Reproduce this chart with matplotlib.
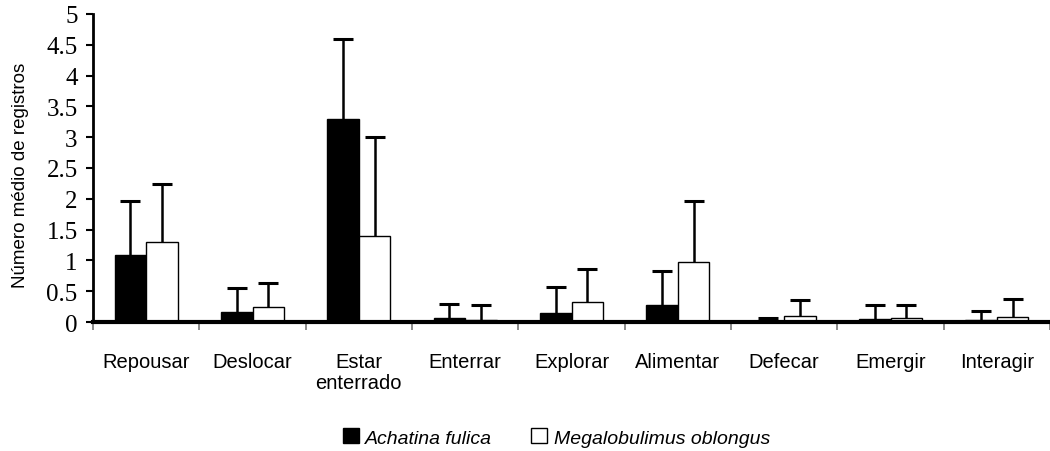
import numpy as np
import matplotlib.pyplot as plt
from matplotlib.patches import Patch
from matplotlib.transforms import blended_transform_factory

# ── DATA ─────────────────────────────────────────────────────────
categories = ["Repousar", "Deslocar", "Estar\nenterrado", "Enterrar", "Explorar",
              "Alimentar", "Defecar", "Emergir", "Interagir"]
fulica_mean = [1.08, 0.16, 3.30, 0.06, 0.15, 0.28, 0.01, 0.05, 0.03]
fulica_err  = [0.88, 0.39, 1.30, 0.23, 0.42, 0.54, 0.06, 0.22, 0.15]
oblongus_mean = [1.30, 0.24, 1.40, 0.04, 0.32, 0.97, 0.10, 0.07, 0.08]
oblongus_err  = [0.94, 0.40, 1.60, 0.23, 0.54, 0.99, 0.26, 0.20, 0.29]
yticks = [0, 0.5, 1, 1.5, 2, 2.5, 3, 3.5, 4, 4.5, 5]

# ── FIGURE ───────────────────────────────────────────────────────
fig = plt.figure(figsize=(10.5, 4.52), dpi=100)
ax = fig.add_axes([93 / 1050, (452 - 323) / 452, (1050 - 93) / 1050, 308 / 452])

x = np.arange(len(categories)) + 0.5
w = 0.295
err_kw = dict(ecolor="black", elinewidth=1.8, capsize=7, capthick=2.2)

ax.bar(x - w / 2, fulica_mean, width=w, color="black", edgecolor="black",
       linewidth=1, zorder=3)
ax.bar(x + w / 2, oblongus_mean, width=w, color="white", edgecolor="black",
       linewidth=1, zorder=3)
for off, m, e in [(-w / 2, fulica_mean, fulica_err), (w / 2, oblongus_mean, oblongus_err)]:
    eb = ax.errorbar(x + off, m, yerr=[np.zeros(len(x)), e], fmt="none", zorder=2, **err_kw)
    eb[1][0].set_visible(False)   # hide lower caps

ax.set_xlim(0, (1050 - 93) / 107.7)
ax.set_ylim(0, 5)
ax.set_yticks(yticks)
ax.set_yticklabels([f"{t:g}" for t in yticks], family="Liberation Serif", fontsize=18)
ax.tick_params(axis="y", length=5, width=1.5, pad=6)

ax.set_xticks(np.arange(len(categories) + 1))
ax.set_xticklabels([])
ax.tick_params(axis="x", length=6, width=1.2, color="#777777")

tr = blended_transform_factory(ax.transData, ax.transAxes)
for xi, lab in zip(x, categories):
    ax.text(xi, -0.097, lab, transform=tr, ha="center", va="top",
            family="Liberation Sans", fontsize=14.5, linespacing=1.15)

ax.set_ylabel("Número médio de registros", family="Liberation Sans", fontsize=13.5)
ax.yaxis.set_label_coords(-0.067, 0.48)

for s in ["top", "right"]:
    ax.spines[s].set_visible(False)
ax.spines["left"].set_linewidth(2)
ax.spines["bottom"].set_linewidth(3)
ax.spines["bottom"].set_zorder(4)

handles = [Patch(facecolor="black", edgecolor="black"),
           Patch(facecolor="white", edgecolor="black")]
fig.legend(handles, ["Achatina fulica", "Megalobulimus oblongus"],
           loc="center", bbox_to_anchor=(0.53, 0.03), ncol=2, frameon=False,
           handlelength=0.8, handleheight=0.8, handletextpad=0.35,
           columnspacing=2.0, prop=dict(family="Liberation Sans",
                                        style="italic", size=14))

fig.savefig("out.png", dpi=100)
